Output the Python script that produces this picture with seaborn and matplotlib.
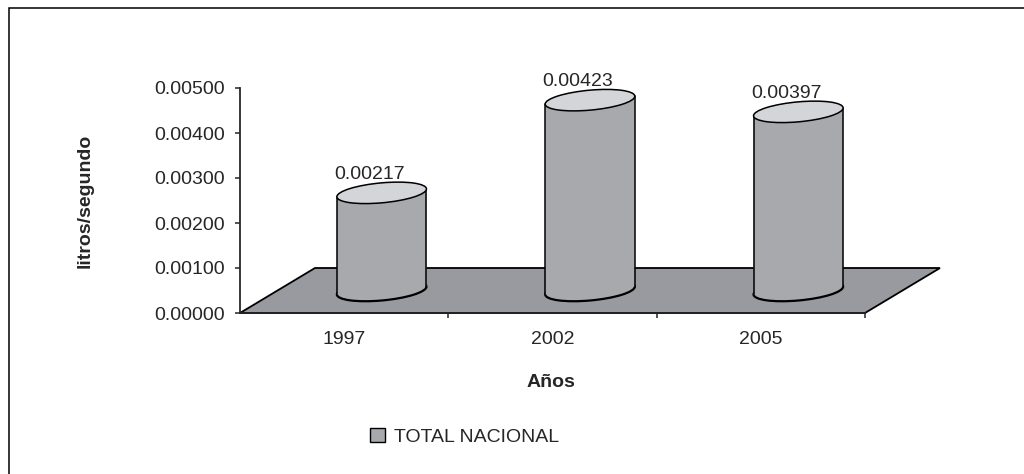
import numpy as np
import pandas as pd
import matplotlib
matplotlib.use("Agg")
import matplotlib.pyplot as plt
import seaborn as sns
from matplotlib.patches import Ellipse, Polygon, Rectangle
from matplotlib.transforms import Affine2D

# Caudal por año (litros/segundo)
years = ["1997", "2002", "2005"]
values = [0.00217, 0.00423, 0.00397]
series_name = "TOTAL NACIONAL"
y_ticks = [0.0, 0.001, 0.002, 0.003, 0.004, 0.005]

body_color = "#A7A9AD"
top_color = "#D4D5D8"
floor_color = "#989AA0"

FS = 14

sns.set_style("white")
plt.rcParams["font.family"] = ["Liberation Sans", "DejaVu Sans"]
plt.rcParams["font.size"] = FS

W, H, DPI = 1024, 474, 100
fig = plt.figure(figsize=(W / DPI, H / DPI), dpi=DPI)
ax = fig.add_axes([240 / W, 161 / H, 625 / W, 225 / H])

df = pd.DataFrame({"Año": years, "valor": values})
sns.barplot(data=df, x="Año", y="valor", color=body_color, width=0.43,
            edgecolor="black", linewidth=1.0, saturation=1,
            label=series_name, ax=ax)

ax.set_xlim(-0.5, 2.5)
ax.set_ylim(0, 0.005)

# depth of the 3-D floor, in pixels
depth_x, depth_y = 75.0, 45.0
half_x, half_y = depth_x / 2, depth_y / 2
tilt = 5.0
ell_h = 20.0

# legend first, so its swatch keeps the black outline
leg = ax.legend(loc="center left", bbox_to_anchor=(370 / W, 1 - 437 / H),
                bbox_transform=fig.transFigure, frameon=False, borderpad=0,
                borderaxespad=0, handlelength=0.75, handleheight=0.75,
                handletextpad=0.5, fontsize=FS)

# floor
fx, fy = depth_x / 625, depth_y / 225
floor = Polygon([(0, 0), (1, 0), (1 + fx, fy), (fx, fy)], closed=True,
                transform=ax.transAxes, facecolor=floor_color,
                edgecolor="black", linewidth=1.3, zorder=1, clip_on=False)
ax.add_patch(floor)

fig.canvas.draw()
bars = [q for q in ax.patches if isinstance(q, Rectangle)]
for p, v in zip(bars, values):
    x0, w, h = p.get_x(), p.get_width(), p.get_height()
    xl, yb = ax.transData.transform((x0, 0))
    xr, yt = ax.transData.transform((x0 + w, h))
    cx = (xl + xr) / 2
    wpx = xr - xl
    shear = (Affine2D().translate(-cx, -yb).skew_deg(0, tilt)
             .translate(cx, yb).translate(half_x, half_y))
    # body
    p.set_transform(ax.transData + shear)
    p.set_edgecolor("none")
    p.set_zorder(3)
    p.set_clip_on(False)
    # side outlines
    for xe in (x0, x0 + w):
        ax.plot([xe, xe], [0, h], color="black", lw=1.1, zorder=3.5,
                transform=ax.transData + shear, clip_on=False)
    # bottom and top caps
    ax.add_patch(Ellipse((cx, yb), wpx, ell_h, transform=shear,
                         facecolor=body_color, edgecolor="black",
                         linewidth=1.6, zorder=2, clip_on=False))
    ax.add_patch(Ellipse((cx, yt), wpx, ell_h, transform=shear,
                         facecolor=top_color, edgecolor="black",
                         linewidth=1.1, zorder=4, clip_on=False))
    ax.annotate(f"{v:.5f}", xy=(x0 + w / 2, h), xytext=(25.5, 41),
                textcoords="offset pixels", ha="center", va="center",
                fontsize=FS, zorder=5, annotation_clip=False)

# axes styling
for s in ("top", "right"):
    ax.spines[s].set_visible(False)
ax.spines["left"].set_linewidth(1.3)
ax.spines["bottom"].set_linewidth(1.3)
ax.spines["left"].set_zorder(6)

ax.set_yticks(y_ticks)
ax.set_yticklabels([f"{t:.5f}" for t in y_ticks])
ax.tick_params(axis="y", direction="out", length=3.6, width=1.1,
               pad=7.2, left=True, labelsize=FS)

ax.set_xticks(range(len(years)))
ax.set_xticklabels(years)
ax.set_xticks([0.5, 1.5, 2.5], minor=True)
ax.tick_params(axis="x", which="major", length=0, pad=13, labelsize=FS)
ax.tick_params(axis="x", which="minor", direction="out", length=3.6,
               width=1.1, bottom=True)

ax.set_xlabel("Años", fontsize=FS, fontweight="bold")
ax.xaxis.set_label_coords(0.4976, -0.307)
ax.xaxis.label.set_va("center")
ax.set_ylabel("litros/segundo", fontsize=FS, fontweight="bold")
ax.yaxis.set_label_coords(-0.248, 0.5)
ax.yaxis.label.set_va("center")

# chart-area frame
fig.patches.append(Rectangle((8.5 / W, -0.1), 1.2, 1 - 8.5 / H + 0.1,
                             transform=fig.transFigure, fill=False,
                             edgecolor="black", linewidth=1.1))

fig.savefig("out.png", dpi=DPI)
